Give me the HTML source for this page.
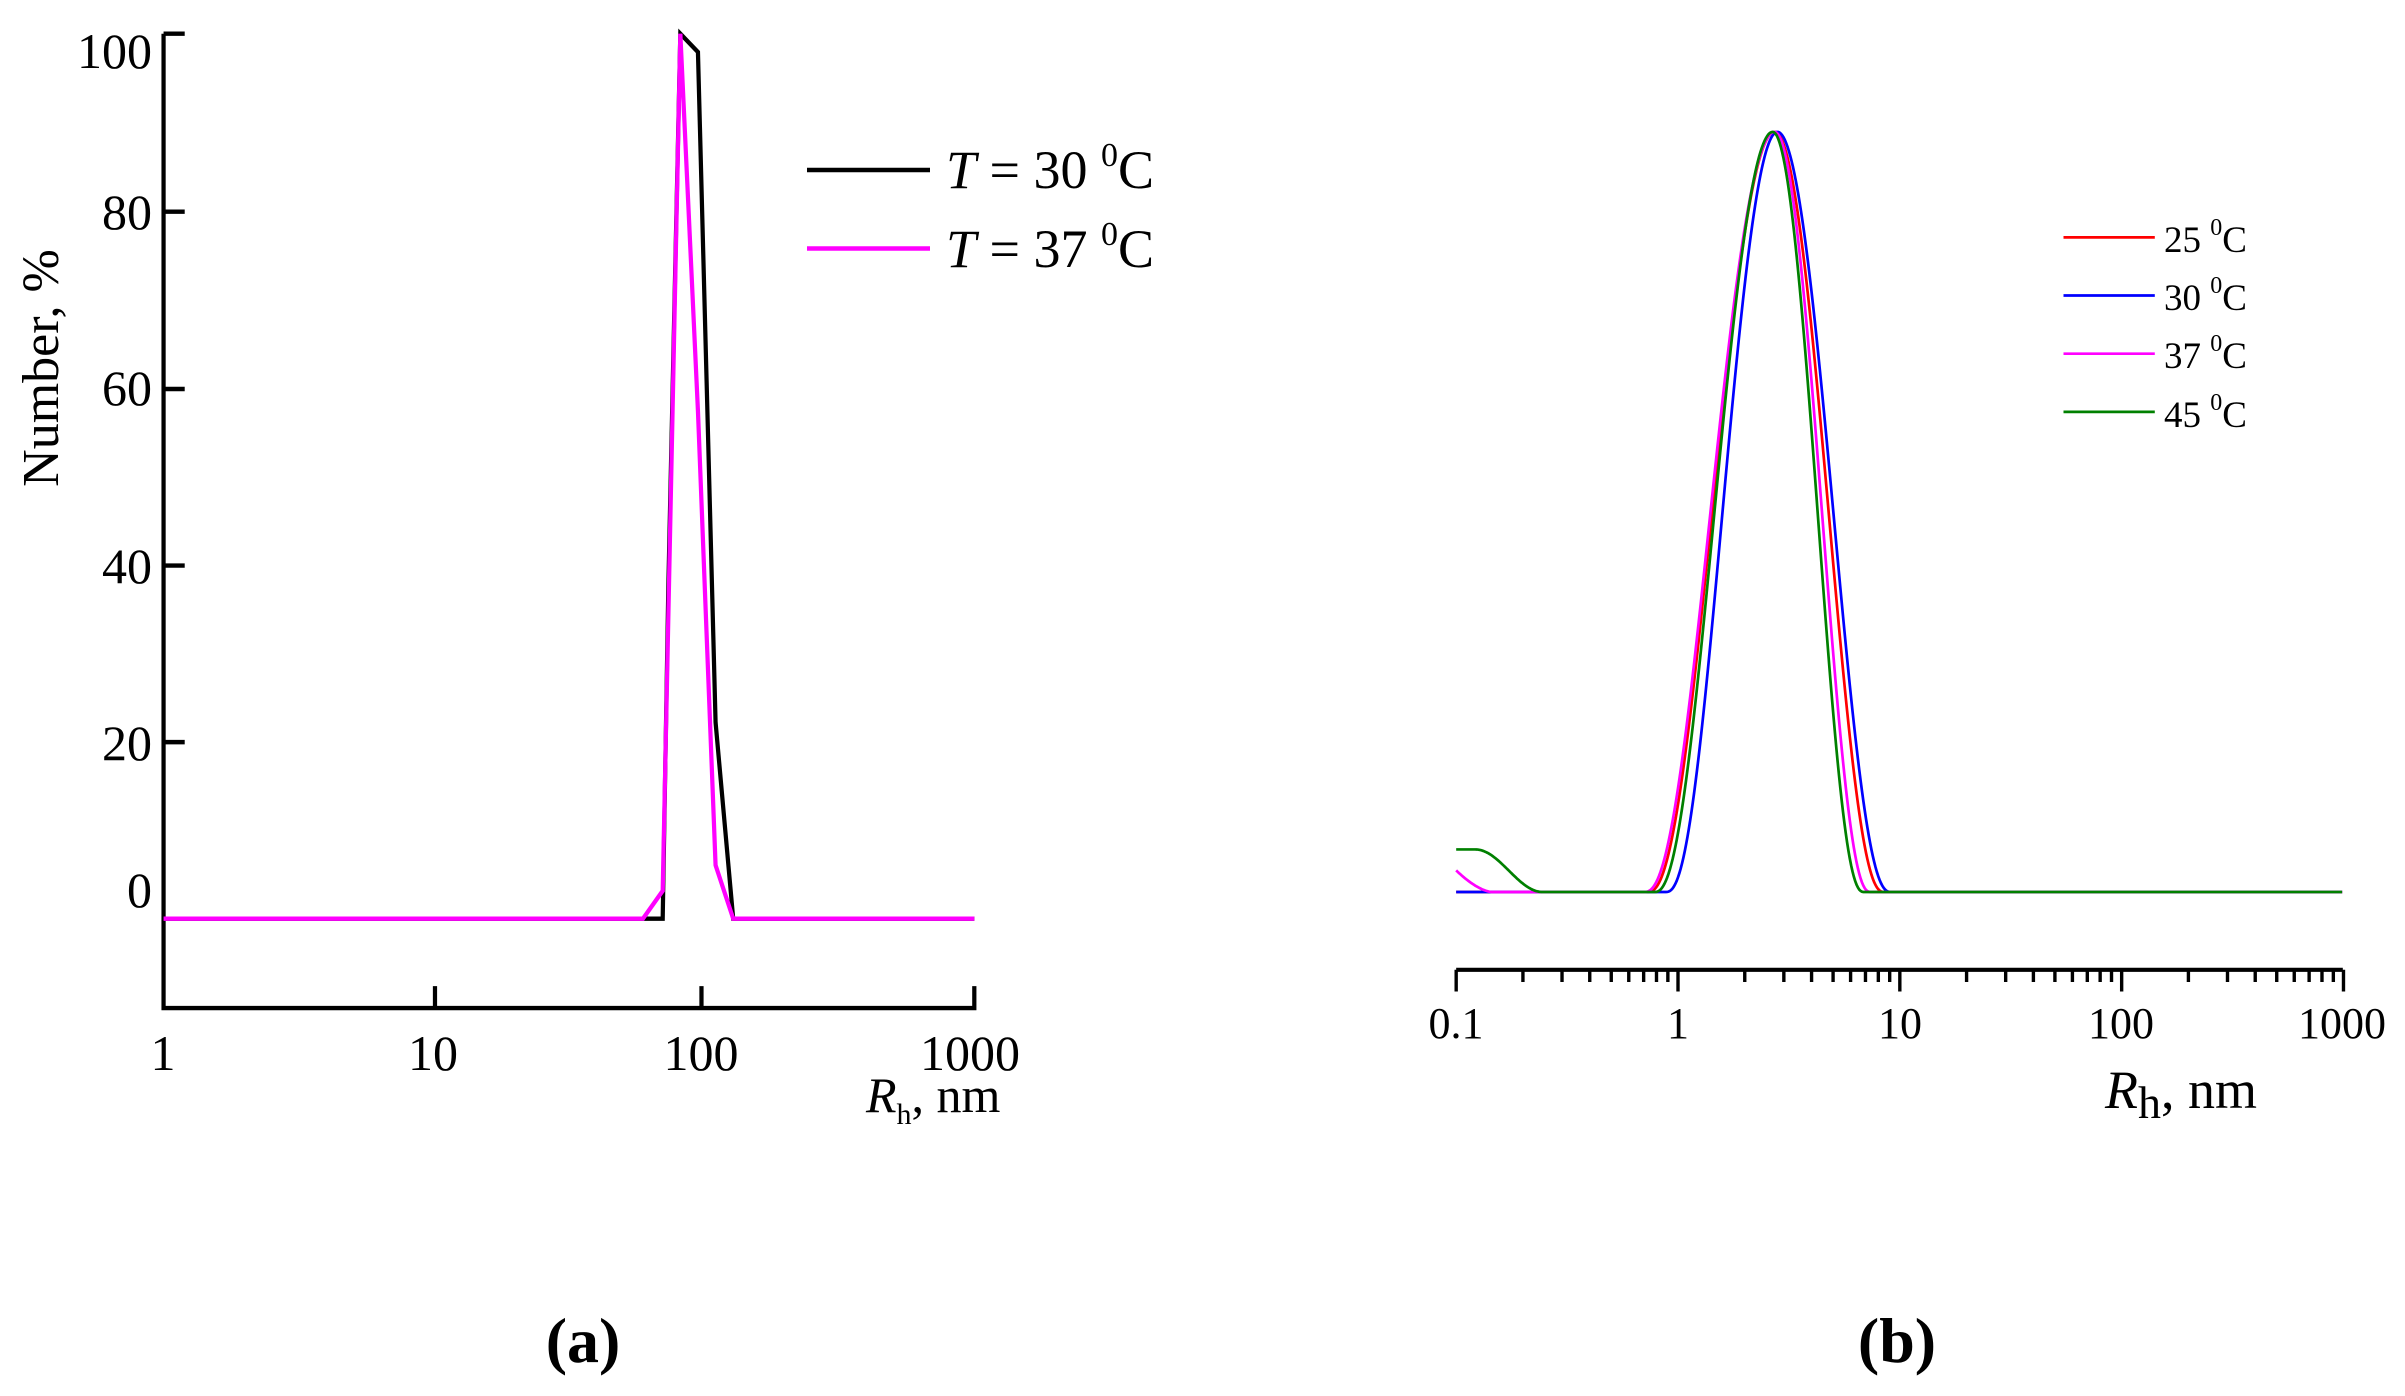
<!DOCTYPE html>
<html><head><meta charset="utf-8"><style>
html,body{margin:0;padding:0;background:#fff;}
svg{display:block;font-family:"Liberation Serif",serif;}
</style></head><body>
<svg id="s" width="2405" height="1396" viewBox="0 0 2405 1396" xmlns="http://www.w3.org/2000/svg">
<rect width="2405" height="1396" fill="#fff"/>
<!-- Panel a -->
<g transform="translate(0,0.73) scale(0.705,0.7326)" fill="none" stroke-linejoin="miter">
  <path d="M232,45 V1375 H1382 V1345" stroke="#000" stroke-width="6"/>
  <path d="M232,45 H262 M232,288 H262 M232,530 H262 M232,771 H262 M232,1012 H262 M617,1375 V1345 M995,1375 V1345" stroke="#000" stroke-width="6"/>
  <path d="M232,1253 H940 L948,800 L965,45 L990,70 L1015,985 L1040,1253 H1382" stroke="#000" stroke-width="6"/>
  <path d="M232,1253 H912 L940,1215 L965,45 L990,560 L1015,1180 L1040,1253 H1382" stroke="#ff00ff" stroke-width="6"/>
</g>
<path d="M807,170 H930" stroke="#000" stroke-width="4.5"/>
<path d="M807,248.5 H930" stroke="#ff00ff" stroke-width="4.5"/>
<g font-size="50" fill="#000">
  <text x="152" y="68" text-anchor="end">100</text>
  <text x="152" y="229" text-anchor="end">80</text>
  <text x="152" y="405" text-anchor="end">60</text>
  <text x="152" y="583" text-anchor="end">40</text>
  <text x="152" y="760" text-anchor="end">20</text>
  <text x="152" y="907" text-anchor="end">0</text>
  <text x="163" y="1070" text-anchor="middle">1</text>
  <text x="433" y="1070" text-anchor="middle">10</text>
  <text x="701" y="1070" text-anchor="middle">100</text>
  <text x="970" y="1070" text-anchor="middle">1000</text>
  <text transform="translate(58,368) rotate(-90)" text-anchor="middle" font-size="52">Number, %</text>
  <text x="866" y="1112"><tspan font-style="italic">R</tspan><tspan font-size="30" dy="12">h</tspan><tspan dy="-12">, nm</tspan></text>
  <text x="946" y="188" font-size="54"><tspan font-style="italic">T</tspan> = 30 <tspan font-size="34" dy="-22">0</tspan><tspan dy="22">C</tspan></text>
  <text x="946" y="267" font-size="54"><tspan font-style="italic">T</tspan> = 37 <tspan font-size="34" dy="-22">0</tspan><tspan dy="22">C</tspan></text>
  <text x="583" y="1362" text-anchor="middle" font-size="64" font-weight="bold">(a)</text>
  <text x="1897" y="1362" text-anchor="middle" font-size="64" font-weight="bold">(b)</text>
</g>
<!-- Panel b -->
<g transform="translate(1350,94) scale(0.6763)" fill="none">
  <path d="M157,1295 H1468" stroke="#000" stroke-width="6"/>
  <path id="tk" d="" stroke="#000" stroke-width="5"/>
  <path id="cr" d="" stroke="#ff0000" stroke-width="4"/>
  <path id="cb" d="" stroke="#0000ff" stroke-width="4"/>
  <path id="cm" d="" stroke="#ff00ff" stroke-width="4"/>
  <path id="cg" d="" stroke="#008000" stroke-width="4"/>
  <path d="M1055,212 H1190" stroke="#ff0000" stroke-width="4"/>
  <path d="M1055,298 H1190" stroke="#0000ff" stroke-width="4"/>
  <path d="M1055,384 H1190" stroke="#ff00ff" stroke-width="4"/>
  <path d="M1055,470 H1190" stroke="#008000" stroke-width="4"/>
</g>
<g font-size="44" fill="#000">
  <text x="1456" y="1038" text-anchor="middle">0.1</text>
  <text x="1678" y="1038" text-anchor="middle">1</text>
  <text x="1900" y="1038" text-anchor="middle">10</text>
  <text x="2121" y="1038" text-anchor="middle">100</text>
  <text x="2342" y="1038" text-anchor="middle">1000</text>
  <text x="2105" y="1108" font-size="54"><tspan font-style="italic">R</tspan><tspan font-size="46" dy="10">h</tspan><tspan dy="-10">, nm</tspan></text>
</g>
<g font-size="37" fill="#000">
  <text x="2164" y="252">25 <tspan font-size="24" dy="-17">0</tspan><tspan dy="17">C</tspan></text>
  <text x="2164" y="310">30 <tspan font-size="24" dy="-17">0</tspan><tspan dy="17">C</tspan></text>
  <text x="2164" y="368">37 <tspan font-size="24" dy="-17">0</tspan><tspan dy="17">C</tspan></text>
  <text x="2164" y="427">45 <tspan font-size="24" dy="-17">0</tspan><tspan dy="17">C</tspan></text>
</g>
</svg>
<script>
(function(){
  var x0=157, dec=328, base=1180, H=1124;
  var t="";
  for(var d=0; d<4; d++){
    var xs=x0+d*dec;
    t+="M"+xs+",1295V1327";
    for(var k=2;k<10;k++){var x=xs+Math.log10(k)*dec; t+="M"+x.toFixed(1)+",1295V1313";}
  }
  t+="M"+(x0+4*dec)+",1295V1327";
  document.getElementById("tk").setAttribute("d",t);
  function curve(c,wl,wr,bump){
    var p="";
    for(var x=157;x<=1468;x+=2){
      var w=x<c?wl:wr, u=(x-c)/w;
      var y=base;
      if(Math.abs(u)<1) y=base-H*Math.pow(1-u*u,2.5);
      if(bump) y-=bump(x);
      p+=(p?"L":"M")+x+","+y.toFixed(1);
    }
    return p;
  }
  document.getElementById("cr").setAttribute("d",curve(628,188,162));
  document.getElementById("cb").setAttribute("d",curve(632,165,168));
  document.getElementById("cm").setAttribute("d",curve(628,193,142,function(x){return x<210?32*Math.pow(Math.max(0,(210-x)/53),1.6):0;}));
  document.getElementById("cg").setAttribute("d",curve(625,175,135,function(x){if(x<185)return 63; if(x>285)return 0; var u=(x-185)/100; return 63*(1+Math.cos(Math.PI*u))/2;}));
})();
</script>
</body></html>
